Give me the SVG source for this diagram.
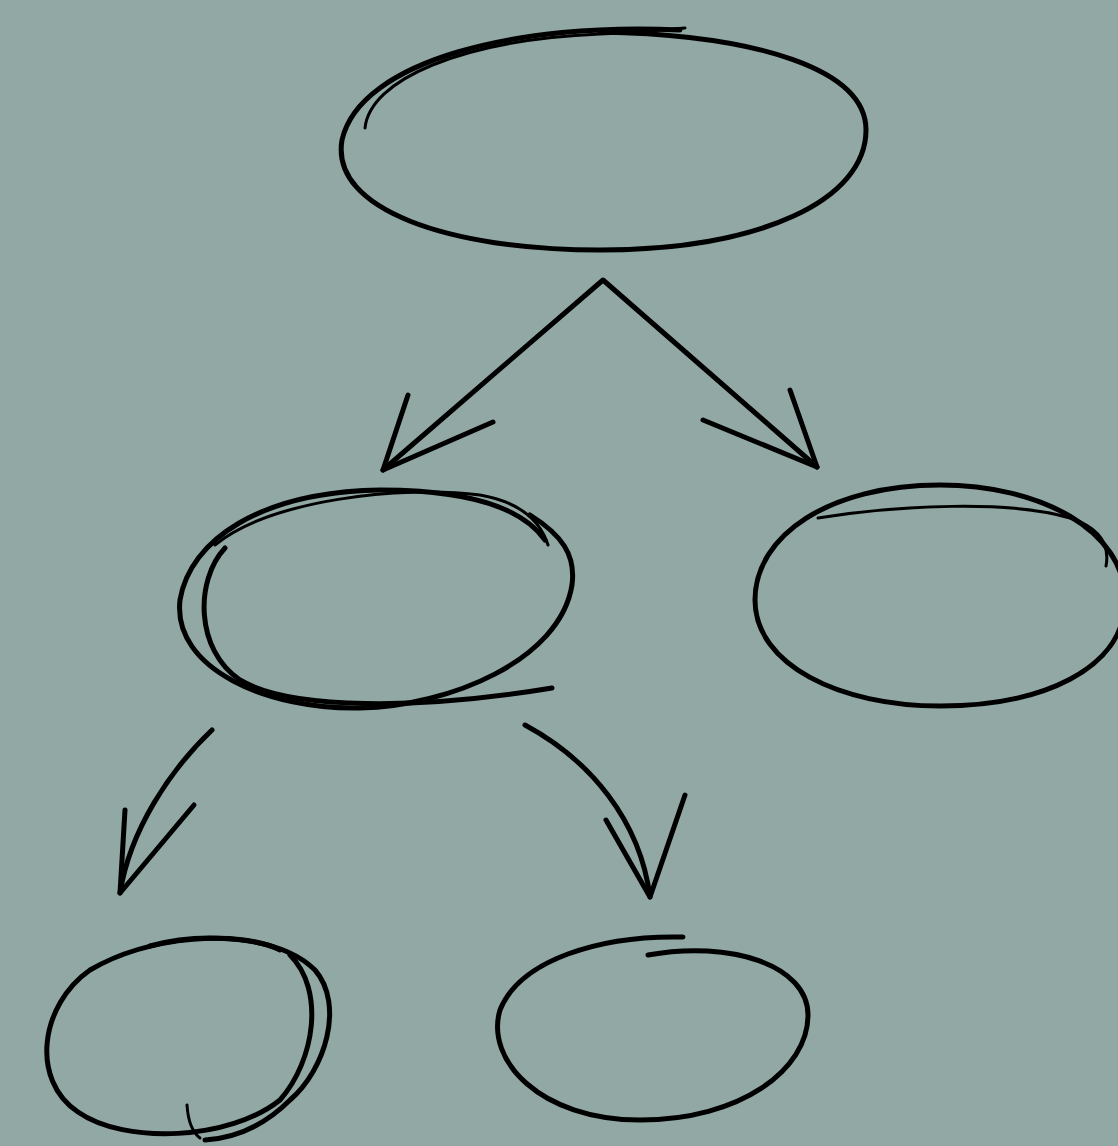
<svg xmlns="http://www.w3.org/2000/svg" width="1118" height="1146" viewBox="0 0 1118 1146">
<style>
.s{fill:none;stroke:#000;stroke-width:5;stroke-linecap:round;stroke-linejoin:round}
.t{fill:none;stroke:#000;stroke-width:3;stroke-linecap:round}
</style>
<rect width="1118" height="1146" fill="#91a8a5"/>
<g id="node-top">
<path class="s" d="M680,30 C520,22 360,60 342,140 C330,210 450,250 600,250 C760,250 866,200 866,130 C866,70 760,35 600,32"/>
<path class="t" d="M365,128 C370,80 460,40 600,34 C640,32 660,30 685,28"/>
</g>
<g id="node-mid-left">
<path class="s" d="M545,540 C520,505 460,490 380,490 C260,492 190,540 180,600 C172,670 270,710 360,708 C450,706 560,660 572,585 C576,555 562,535 530,515"/>
<path class="s" d="M225,548 C195,580 195,650 240,680 C290,710 420,710 552,688"/>
<path class="t" d="M215,545 C270,500 400,485 480,495 C520,502 540,520 548,545"/>
</g>
<g id="node-mid-right">
<path class="s" d="M1125,600 C1125,530 1040,485 940,485 C830,485 755,535 755,600 C755,665 840,706 940,706 C1040,706 1125,670 1125,600"/>
<path class="t" d="M818,518 C900,505 1010,500 1070,518 C1100,528 1110,545 1106,566"/>
</g>
<g id="node-bottom-left">
<path class="s" d="M280,950 C240,930 150,935 90,970 C40,1005 30,1080 78,1112 C125,1145 230,1140 280,1100 C315,1060 325,990 290,955"/>
<path class="s" d="M150,946 C200,932 280,935 315,970 C345,1005 325,1070 290,1100 C265,1125 235,1138 205,1140"/>
<path class="t" d="M187,1105 C188,1120 192,1132 200,1138"/>
</g>
<g id="node-bottom-mid">
<path class="s" d="M683,937 C600,935 520,960 500,1010 C485,1060 540,1120 640,1120 C740,1120 808,1070 808,1015 C808,965 730,940 648,955"/>
</g>
<g id="connectors">
<path class="s" d="M383,470 L603,280 L817,467"/>
<path class="s" d="M408,395 L383,470 L493,422"/>
<path class="s" d="M790,390 L817,467 L703,420"/>
<path class="s" d="M212,730 C170,770 130,830 120,893"/>
<path class="s" d="M125,810 L120,893 L194,805"/>
<path class="s" d="M525,725 C590,760 640,820 650,897"/>
<path class="s" d="M606,820 L650,897 L685,795"/>
</g>
</svg>
